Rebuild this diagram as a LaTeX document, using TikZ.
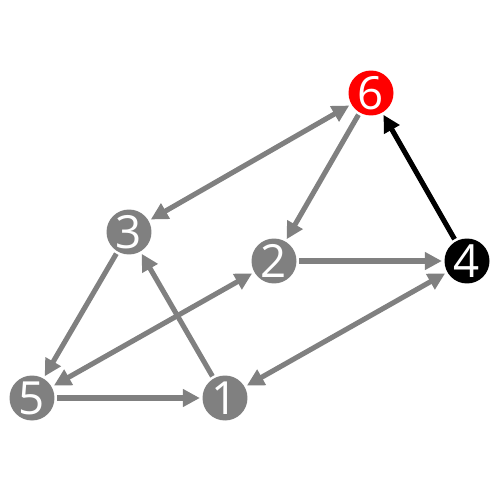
\documentclass[tikz,border=0pt]{standalone}
\usepackage{fontspec}
\setmainfont{Open Sans}
\usetikzlibrary{arrows.meta}
\definecolor{edgegray}{HTML}{808080}
\definecolor{hotred}{HTML}{FF0000}

\begin{document}
\begin{tikzpicture}[x=0.02cm,y=-0.02cm,
  vert/.style={circle,fill=edgegray,text=white,minimum size=0.9cm,
    inner sep=0pt,outer sep=1.5pt,font=\fontsize{26}{26}\selectfont},
  link/.style={draw=edgegray,line width=2.9pt,
    -{Triangle[length=0.34cm,width=0.34cm]}},
  both/.style={link,{Triangle[length=0.34cm,width=0.34cm]}-{Triangle[length=0.34cm,width=0.34cm]}}]
  \useasboundingbox (0,0) rectangle (500,500);
  % vertices
  \foreach \name/\xc/\yc in {1/225/398, 2/274/261, 3/129/232, 5/32/398}{
    \node[vert] (v\name) at (\xc,\yc) {\name};
  }
  \node[vert,fill=hotred] (v6) at (371,93) {6};
  \node[vert,fill=black] (v4) at (467,261) {4};
  % one-way edges
  \foreach \a/\b in {6/2, 2/4, 3/5, 1/3, 5/1}{
    \draw[link] (v\a) -- (v\b);
  }
  % two-way edges
  \foreach \a/\b in {6/3, 5/2, 1/4}{
    \draw[both] (v\a) -- (v\b);
  }
  \draw[link,draw=black] (v4) -- (v6);
\end{tikzpicture}
\end{document}
